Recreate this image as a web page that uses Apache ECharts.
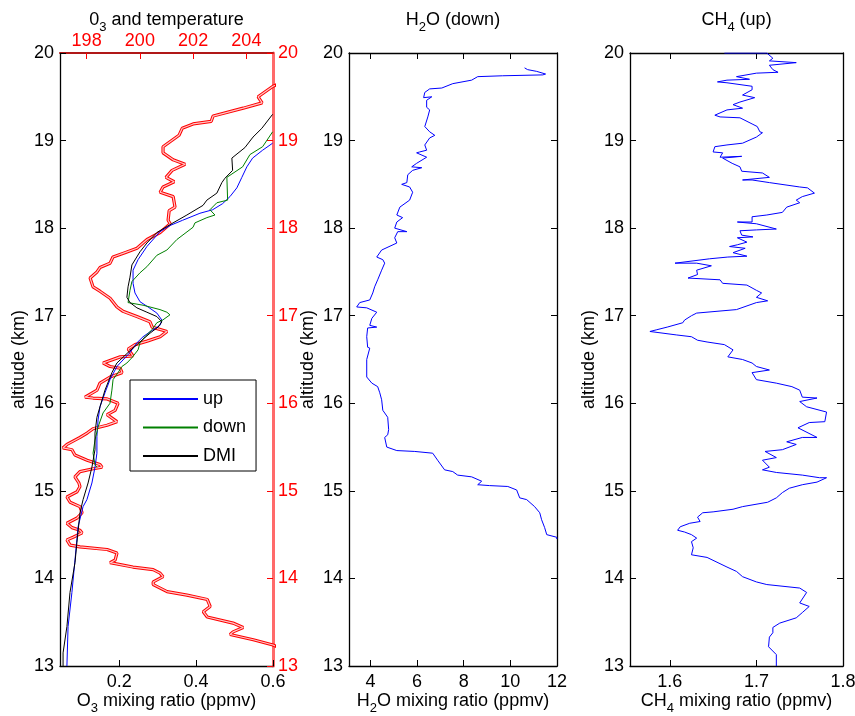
<!DOCTYPE html>
<html><head><meta charset="utf-8">
<script src="https://cdn.jsdelivr.net/npm/echarts@6/dist/echarts.min.js"></script>
<style>html,body{margin:0;padding:0;background:#fff}#c{width:855px;height:716px}</style>
</head><body><div id="c"></div>
<script>
// ---------- tick labels ----------
const ALT_MIN = 13, ALT_MAX = 20;
const O3_TICKS = [0.2, 0.4, 0.6];
const TEMP_TICKS = [198, 200, 202, 204];
const H2O_TICKS = [4, 6, 8, 10, 12];
const CH4_TICKS = [1.6, 1.7, 1.8];

// ---------- data: [value, altitude km] ----------
const tempProfile = [[205.3,19.66],[205.0,19.62],[204.44,19.50],[204.59,19.43],[203.88,19.37],[202.75,19.28],[202.68,19.22],[202.0,19.19],[201.59,19.14],[201.47,19.06],[200.87,18.93],[200.87,18.86],[201.25,18.78],[201.70,18.73],[201.21,18.66],[200.98,18.58],[201.29,18.53],[200.87,18.47],[200.76,18.41],[201.25,18.36],[201.32,18.24],[201.10,18.20],[201.06,18.09],[201.14,18.05],[200.76,17.95],[200.27,17.87],[199.89,17.77],[199.44,17.72],[198.99,17.67],[198.88,17.60],[198.50,17.55],[198.39,17.50],[198.13,17.43],[198.24,17.33],[198.50,17.28],[198.88,17.20],[199.14,17.10],[199.37,17.05],[199.89,16.99],[200.38,16.93],[200.46,16.87],[201.02,16.82],[200.76,16.76],[200.27,16.71],[199.82,16.67],[199.56,16.62],[199.74,16.54],[199.26,16.53],[198.62,16.46],[198.88,16.42],[199.26,16.40],[199.33,16.35],[198.88,16.30],[198.50,16.23],[198.39,16.15],[197.94,16.07],[198.24,16.06],[198.77,16.05],[199.18,16.00],[199.07,15.92],[198.77,15.87],[199.14,15.79],[198.77,15.75],[198.24,15.71],[198.02,15.66],[197.75,15.61],[197.26,15.53],[197.11,15.49],[197.45,15.47],[197.56,15.41],[198.02,15.35],[198.50,15.30],[198.58,15.27],[198.20,15.25],[197.75,15.22],[197.56,15.16],[197.71,15.09],[197.75,15.05],[197.64,14.99],[197.26,14.93],[197.38,14.87],[197.75,14.82],[197.83,14.75],[197.64,14.69],[197.26,14.63],[197.45,14.58],[197.75,14.55],[197.83,14.52],[197.49,14.47],[197.26,14.44],[197.38,14.38],[197.75,14.36],[198.77,14.33],[199.14,14.29],[199.07,14.21],[198.88,14.18],[199.74,14.13],[200.50,14.10],[200.76,14.06],[200.87,14.02],[200.50,13.96],[200.50,13.93],[201.02,13.85],[201.77,13.81],[202.53,13.76],[202.64,13.68],[202.38,13.62],[202.53,13.56],[203.50,13.49],[203.88,13.44],[203.50,13.39],[203.39,13.36],[204.26,13.30],[205.0,13.24],[205.3,13.2]];

const o3Up = [[0.599,18.97],[0.573,18.89],[0.547,18.80],[0.532,18.70],[0.519,18.58],[0.506,18.46],[0.488,18.36],[0.469,18.28],[0.443,18.21],[0.410,18.17],[0.365,18.09],[0.332,18.03],[0.306,17.96],[0.272,17.79],[0.249,17.64],[0.236,17.52],[0.236,17.37],[0.241,17.26],[0.254,17.16],[0.275,17.10],[0.298,17.03],[0.311,16.95],[0.306,16.89],[0.288,16.84],[0.262,16.76],[0.246,16.69],[0.233,16.61],[0.228,16.58],[0.194,16.42],[0.176,16.27],[0.163,16.12],[0.150,15.96],[0.145,15.81],[0.142,15.62],[0.142,15.43],[0.137,15.27],[0.129,15.09],[0.116,14.90],[0.106,14.82],[0.093,14.59],[0.085,14.21],[0.077,13.84],[0.067,13.45],[0.064,13.00]];

const o3Down = [[0.599,19.10],[0.573,18.93],[0.540,18.84],[0.521,18.70],[0.480,18.58],[0.482,18.32],[0.454,18.29],[0.436,18.21],[0.449,18.15],[0.428,18.12],[0.397,18.06],[0.392,18.01],[0.350,17.87],[0.324,17.75],[0.298,17.69],[0.272,17.56],[0.254,17.49],[0.233,17.39],[0.228,17.29],[0.223,17.15],[0.262,17.12],[0.306,17.07],[0.324,17.04],[0.332,17.01],[0.313,16.95],[0.298,16.92],[0.285,16.84],[0.267,16.76],[0.254,16.69],[0.249,16.61],[0.233,16.52],[0.220,16.46],[0.207,16.42],[0.197,16.35],[0.184,16.27],[0.181,16.15],[0.176,16.00],[0.158,15.89],[0.145,15.73],[0.137,15.58],[0.132,15.43],[0.137,15.30],[0.142,15.27]];

const o3Dmi = [[0.599,19.30],[0.571,19.14],[0.548,19.04],[0.527,18.92],[0.493,18.80],[0.495,18.66],[0.475,18.57],[0.467,18.52],[0.454,18.40],[0.428,18.32],[0.418,18.26],[0.376,18.15],[0.340,18.06],[0.298,17.95],[0.272,17.83],[0.254,17.73],[0.233,17.58],[0.228,17.44],[0.223,17.33],[0.220,17.21],[0.228,17.15],[0.246,17.09],[0.272,17.04],[0.298,16.99],[0.311,16.93],[0.301,16.87],[0.280,16.80],[0.254,16.70],[0.223,16.58],[0.194,16.46],[0.181,16.35],[0.163,16.15],[0.150,15.96],[0.142,15.84],[0.137,15.66],[0.137,15.47],[0.129,15.27],[0.119,15.09],[0.106,14.90],[0.098,14.75],[0.090,14.41],[0.085,14.18],[0.072,13.84],[0.064,13.45],[0.054,13.15],[0.054,13.00]];

const h2oDown = [[10.61,19.83],[10.74,19.81],[11.13,19.79],[11.17,19.77],[11.51,19.76],[11.39,19.75],[9.67,19.74],[8.60,19.73],[8.34,19.69],[7.53,19.65],[7.06,19.60],[6.54,19.59],[6.33,19.55],[6.28,19.49],[6.63,19.50],[6.41,19.46],[6.41,19.38],[6.54,19.35],[6.46,19.27],[6.33,19.16],[6.54,19.10],[6.76,19.06],[6.54,19.03],[6.33,18.95],[6.41,18.89],[6.11,18.87],[5.98,18.86],[6.41,18.81],[5.98,18.74],[5.77,18.70],[6.20,18.69],[5.81,18.66],[5.60,18.61],[5.56,18.52],[5.34,18.50],[5.68,18.47],[5.81,18.41],[5.68,18.32],[5.26,18.24],[5.13,18.15],[5.38,18.12],[5.13,18.07],[5.04,18.00],[5.56,17.96],[5.17,17.96],[5.04,17.89],[5.13,17.83],[4.48,17.75],[4.27,17.67],[4.53,17.64],[4.61,17.60],[4.48,17.52],[4.31,17.41],[4.18,17.33],[4.10,17.26],[3.97,17.18],[3.54,17.15],[3.41,17.10],[3.84,17.09],[4.27,17.04],[4.06,16.97],[3.97,16.89],[4.27,16.87],[3.88,16.86],[3.84,16.76],[3.88,16.64],[3.97,16.63],[3.84,16.50],[3.84,16.30],[4.06,16.23],[4.31,16.19],[4.40,16.12],[4.48,16.04],[4.53,15.92],[4.74,15.84],[4.78,15.70],[4.74,15.64],[4.61,15.61],[4.70,15.50],[5.13,15.46],[5.90,15.45],[6.67,15.43],[6.88,15.35],[7.18,15.24],[7.53,15.22],[7.74,15.18],[8.34,15.16],[8.77,15.11],[8.60,15.07],[9.11,15.06],[9.89,15.05],[10.27,15.01],[10.40,14.92],[10.70,14.90],[11.04,14.82],[11.26,14.75],[11.34,14.67],[11.47,14.58],[11.56,14.50],[11.99,14.47],[11.99,14.45]];

const ch4Up = [[1.663,20.0],[1.712,20.0],[1.712,19.98],[1.719,19.94],[1.715,19.91],[1.746,19.89],[1.715,19.86],[1.719,19.81],[1.725,19.78],[1.700,19.77],[1.677,19.73],[1.692,19.70],[1.666,19.69],[1.655,19.67],[1.666,19.66],[1.695,19.62],[1.695,19.58],[1.684,19.52],[1.698,19.49],[1.681,19.44],[1.673,19.41],[1.684,19.37],[1.666,19.35],[1.652,19.29],[1.658,19.27],[1.681,19.26],[1.695,19.19],[1.701,19.16],[1.704,19.10],[1.707,19.09],[1.700,19.04],[1.684,18.97],[1.666,18.95],[1.652,18.93],[1.650,18.87],[1.661,18.86],[1.658,18.81],[1.683,18.82],[1.661,18.80],[1.672,18.74],[1.681,18.70],[1.683,18.65],[1.707,18.63],[1.715,18.58],[1.684,18.55],[1.695,18.55],[1.715,18.52],[1.750,18.47],[1.759,18.46],[1.767,18.40],[1.753,18.36],[1.746,18.32],[1.750,18.29],[1.735,18.24],[1.730,18.18],[1.712,18.15],[1.695,18.13],[1.695,18.07],[1.678,18.07],[1.700,18.05],[1.723,17.99],[1.700,17.98],[1.681,17.97],[1.683,17.92],[1.696,17.90],[1.678,17.89],[1.689,17.84],[1.678,17.81],[1.669,17.79],[1.687,17.77],[1.673,17.72],[1.689,17.68],[1.667,17.67],[1.646,17.65],[1.606,17.60],[1.631,17.60],[1.648,17.57],[1.631,17.52],[1.632,17.47],[1.621,17.43],[1.658,17.41],[1.661,17.37],[1.689,17.35],[1.700,17.29],[1.706,17.26],[1.700,17.21],[1.713,17.17],[1.700,17.15],[1.677,17.07],[1.631,17.03],[1.625,17.00],[1.617,16.95],[1.615,16.92],[1.597,16.87],[1.585,16.84],[1.577,16.82],[1.608,16.78],[1.625,16.76],[1.632,16.72],[1.643,16.70],[1.663,16.67],[1.673,16.61],[1.667,16.53],[1.684,16.50],[1.695,16.46],[1.700,16.42],[1.715,16.38],[1.695,16.35],[1.700,16.27],[1.723,16.23],[1.741,16.19],[1.750,16.15],[1.753,16.07],[1.770,16.06],[1.750,16.02],[1.758,15.96],[1.781,15.90],[1.779,15.79],[1.761,15.78],[1.748,15.72],[1.770,15.61],[1.753,15.61],[1.735,15.56],[1.746,15.53],[1.730,15.47],[1.710,15.45],[1.723,15.38],[1.707,15.35],[1.715,15.27],[1.707,15.24],[1.723,15.21],[1.753,15.18],[1.773,15.15],[1.781,15.15],[1.770,15.10],[1.753,15.07],[1.738,15.03],[1.730,14.98],[1.723,14.92],[1.713,14.87],[1.684,14.82],[1.673,14.79],[1.650,14.76],[1.638,14.75],[1.632,14.70],[1.635,14.65],[1.623,14.63],[1.612,14.59],[1.609,14.55],[1.617,14.53],[1.625,14.50],[1.631,14.46],[1.625,14.42],[1.627,14.35],[1.625,14.27],[1.643,14.24],[1.666,14.13],[1.677,14.08],[1.684,14.02],[1.700,13.96],[1.712,13.93],[1.750,13.89],[1.758,13.84],[1.750,13.72],[1.761,13.68],[1.753,13.61],[1.746,13.55],[1.727,13.49],[1.719,13.44],[1.719,13.38],[1.715,13.33],[1.714,13.22],[1.723,13.13],[1.723,13.00]];

// ---------- styling ----------
const FONT = "'Liberation Sans', Arial, Helvetica, sans-serif";
const FS = 18;
const BLACK = '#000';
const RED = '#ff0000';
const GRIDS = [
  {left: 60, top: 53, width: 213, height: 613, containLabel: false, outerBoundsMode: 'none'},
  {left: 349, top: 53, width: 208, height: 613, containLabel: false, outerBoundsMode: 'none'},
  {left: 630, top: 53, width: 213, height: 613, containLabel: false, outerBoundsMode: 'none'}
];
const RANGES = [[0.046, 0.6], [3.08, 12], [1.554, 1.8]];
const TICKS = [O3_TICKS, H2O_TICKS, CH4_TICKS];

function rich(color) {
  return {
    n: {fontFamily: FONT, fontSize: FS, color: color, lineHeight: 28, verticalAlign: 'middle'},
    s: {fontFamily: FONT, fontSize: 13, color: color, lineHeight: 14, verticalAlign: 'bottom'}
  };
}
const XNAMES = ['{n|O}{s|3}{n| mixing ratio (ppmv)}', '{n|H}{s|2}{n|O mixing ratio (ppmv)}', '{n|CH}{s|4}{n| mixing ratio (ppmv)}'];
const TITLES = ['{n|0}{s|3}{n| and temperature}', '{n|H}{s|2}{n|O (down)}', '{n|CH}{s|4}{n| (up)}'];

const xAxes = [], yAxes = [];
for (let i = 0; i < 3; i++) {
  xAxes.push({
    type: 'value', gridIndex: i, position: 'bottom', min: RANGES[i][0], max: RANGES[i][1],
    axisLine: {show: true, onZero: false, lineStyle: {color: BLACK, width: 1.3}},
    axisTick: {show: true, inside: true, length: 6, customValues: TICKS[i], lineStyle: {color: BLACK}},
    axisLabel: {show: true, customValues: TICKS[i], margin: 7, fontFamily: FONT, fontSize: FS, color: BLACK},
    splitLine: {show: false},
    name: XNAMES[i], nameLocation: 'middle', nameGap: 21, nameMoveOverlap: false,
    nameTextStyle: {rich: rich(BLACK)}
  });
}
// top axes: temperature (panel 1) and mirrors (panels 2,3)
xAxes.push({
  type: 'value', gridIndex: 0, position: 'top', min: 197, max: 205,
  axisLine: {show: true, onZero: false, lineStyle: {color: '#b01818', width: 2}},
  axisTick: {show: true, inside: true, length: 6, customValues: TEMP_TICKS, lineStyle: {color: RED}},
  axisLabel: {show: true, customValues: TEMP_TICKS, margin: 3, fontFamily: FONT, fontSize: FS, color: RED},
  splitLine: {show: false},
  name: TITLES[0], nameLocation: 'middle', nameGap: 19, nameMoveOverlap: false, nameTextStyle: {rich: rich(BLACK)}
});
for (let i = 1; i < 3; i++) {
  xAxes.push({
    type: 'value', gridIndex: i, position: 'top', min: RANGES[i][0], max: RANGES[i][1],
    axisLine: {show: true, onZero: false, lineStyle: {color: BLACK, width: 1.3}},
    axisTick: {show: true, inside: true, length: 6, customValues: TICKS[i], lineStyle: {color: BLACK}},
    axisLabel: {show: false},
    splitLine: {show: false},
    name: TITLES[i], nameLocation: 'middle', nameGap: 19, nameMoveOverlap: false, nameTextStyle: {rich: rich(BLACK)}
  });
}
for (let i = 0; i < 3; i++) {
  yAxes.push({
    type: 'value', gridIndex: i, position: 'left', min: ALT_MIN, max: ALT_MAX, interval: 1,
    axisLine: {show: true, onZero: false, lineStyle: {color: BLACK, width: 1.3}},
    axisTick: {show: true, inside: true, length: 6, lineStyle: {color: BLACK}},
    axisLabel: {show: true, margin: 6, fontFamily: FONT, fontSize: FS, color: BLACK},
    splitLine: {show: false},
    name: 'altitude (km)', nameLocation: 'middle', nameGap: 32, nameMoveOverlap: false,
    nameTextStyle: {fontFamily: FONT, fontSize: FS, color: BLACK}
  });
}
for (let i = 0; i < 3; i++) {
  const red = i === 0;
  yAxes.push({
    type: 'value', gridIndex: i, position: 'right', min: ALT_MIN, max: ALT_MAX, interval: 1,
    axisLine: {show: true, onZero: false, lineStyle: {color: red ? '#ff6a6a' : BLACK, width: red ? 3 : 1.3}},
    axisTick: {show: true, inside: true, length: 6, lineStyle: {color: red ? RED : BLACK}},
    axisLabel: {show: red, margin: 5, fontFamily: FONT, fontSize: FS, color: RED},
    splitLine: {show: false}
  });
}

function line(name, data, xi, yi, color, width, z) {
  return {name, type: 'line', data, xAxisIndex: xi, yAxisIndex: yi, symbol: 'none', clip: true,
    lineStyle: {color, width}, itemStyle: {color}, z: z || 2, silent: true};
}

const option = {
  animation: false,
  backgroundColor: '#fff',
  grid: GRIDS,
  xAxis: xAxes,
  yAxis: yAxes,
  legend: {
    data: ['up', 'down', 'DMI'], orient: 'vertical', left: 130, top: 380,
    itemWidth: 55, itemHeight: 14, itemGap: 8.5,
    padding: [9, 10, 5, 12],
    itemStyle: {color: 'rgba(0,0,0,0)', borderWidth: 0, opacity: 0},
    borderColor: '#000', borderWidth: 1, backgroundColor: '#fff',
    textStyle: {fontFamily: FONT, fontSize: FS, color: BLACK, lineHeight: 20}
  },
  series: [
    line('T', tempProfile, 3, 0, RED, 3.2, 3),
    line('T2', tempProfile, 3, 0, '#ffc8c8', 1.2, 4),
    line('up', o3Up, 0, 0, '#0000ff', 1, 5),
    line('down', o3Down, 0, 0, '#008000', 1, 5),
    line('DMI', o3Dmi, 0, 0, BLACK, 1, 5),
    line('H2O', h2oDown, 1, 1, '#0000ff', 1, 5),
    line('CH4', ch4Up, 2, 2, '#0000ff', 1, 5)
  ]
};
const chart = echarts.init(document.getElementById('c'), null, {renderer: 'canvas'});
chart.setOption(option);
</script>
</body></html>
